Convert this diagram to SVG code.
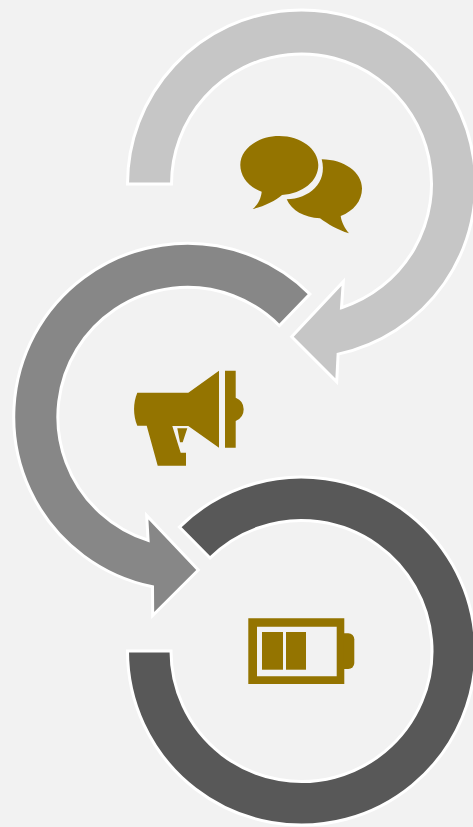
<svg xmlns="http://www.w3.org/2000/svg" width="473" height="827" viewBox="0 0 473 827">
<style>
.ring{stroke:#fff;stroke-width:3;stroke-linejoin:miter;stroke-miterlimit:10}
.icon{fill:#947400}
</style>
<rect width="473" height="827" fill="#f2f2f2"/>
<g id="connectors">
<path id="arrow-1" class="ring" fill="#c6c6c6" d="M127.500 184A174 174 0 1 1 338.100 354.100L336.700 381.700L291.700 336.700L343.300 281.700L341.500 307.700A130 130 0 1 0 171.500 184Z"/>
<path id="arrow-2" class="ring" fill="#878787" d="M309.900 294.100A173.500 173.500 0 1 0 152.500 586.800L152.700 615.500L198.300 570L146.700 515.500L148.100 540.300A129.500 129.500 0 1 1 279.300 325.700Z"/>
<path id="arrow-3" class="ring" fill="#585858" d="M179.400 527.100A174 174 0 1 1 127.500 651L171 651A130.500 130.500 0 1 0 210 558Z"/>
</g>
<g id="node-speech" class="icon">
<path d="M240.300 165C240.300 149 257.800 136 279.300 136C300.800 136 318.300 149 318.300 165C318.300 181 303 193.500 282 195C276 200.500 264 206.500 252.700 209C258.500 204 261 198 261.700 191.700C248.500 187 240.300 176.500 240.300 165Z"/>
<path d="M321.700 159.300C344 159.500 362 172 362 188.500C362 201 353.500 211 340.700 216C341.500 222.500 345 228.500 349 233.300C337.500 230 328 224 320 218.300C304 217.500 291.500 210.500 286.700 199.300C309 199 328 183 321.700 159.300Z"/>
</g>
<g id="node-megaphone" class="icon">
<path fill-rule="evenodd" d="M137.300 392.700H188.300L219 370.700V447.700L188.300 426H172.300L180.700 452.700H186V465.700H157.700L146.700 425.700H137.300C133 415 133 403 137.300 392.700ZM177.300 428.300H187.300L182.700 442.300H180Z"/>
<path d="M225 370.700H235.700V397.700A12.500 12.500 0 0 1 235.700 421V447.700H225Z"/>
</g>
<g id="node-battery" class="icon">
<path fill-rule="evenodd" d="M248.300 618.300H344.300V684H248.300ZM257 626.700V676.300H336.700V626.700Z"/>
<path d="M343.300 633.300H348.300A6 6 0 0 1 354.300 639.300V663A6 6 0 0 1 348.300 669H343.300Z"/>
<rect x="262" y="632" width="21" height="37.700"/>
<rect x="286" y="632" width="20" height="37.700"/>
</g>
</svg>
